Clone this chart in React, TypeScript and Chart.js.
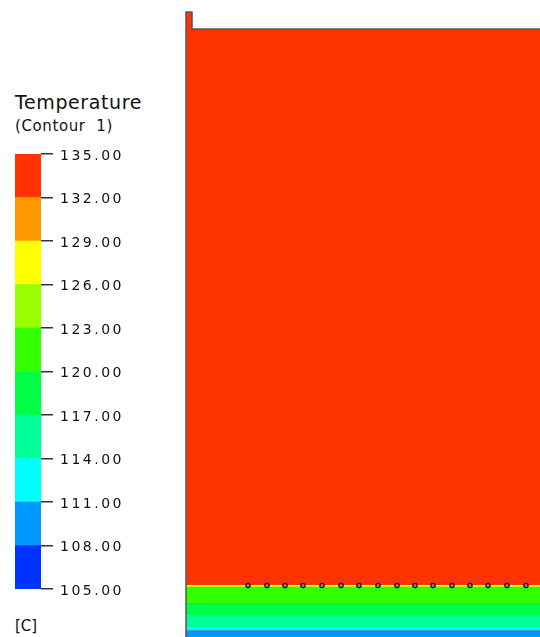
import React, { useEffect, useRef } from "react";
import { Chart, registerables } from "chart.js";

Chart.register(...registerables);

// Legend levels (°C) and contour band colours (band i spans tempLevels[i]..tempLevels[i+1])
const tempLevels = [105, 108, 111, 114, 117, 120, 123, 126, 129, 132, 135];
const bandColors = [
  "#0033ff",
  "#0099ff",
  "#00ffff",
  "#00ff99",
  "#00ff44",
  "#33ff00",
  "#99ff00",
  "#ffff00",
  "#ff9900",
  "#ff3300",
];

// Domain wall outline (model units, origin at left wall / bottom of view)
const wallX = [0, 0, 6, 6, 380];
const wallY = [0, 625, 625, 608, 608];

// Horizontal temperature layers near the bottom of the domain
const layerBottom = [0, 6.5, 10, 22, 33.5, 50, 51];
const layerTop = [6.5, 10, 22, 33.5, 50, 51, 52];
const layerBand = [1, 2, 3, 4, 5, 6, 7];
const fluidBand = 9;

// Interface nodes
const nodeX = [62, 81, 99, 117, 136, 155, 173, 192, 211, 229, 247, 266, 284, 302, 321, 340];
const nodeY = 51.5;

function LegendBar() {
  const ref = useRef<HTMLCanvasElement | null>(null);
  useEffect(() => {
    if (!ref.current) return;
    const datasets = bandColors.map((c, i) => ({
      label: `${tempLevels[i]}-${tempLevels[i + 1]}`,
      data: [[tempLevels[i], tempLevels[i + 1]]] as any,
      backgroundColor: c,
      borderWidth: 0,
      barPercentage: 1,
      categoryPercentage: 1,
    }));
    const chart = new Chart(ref.current, {
      type: "bar",
      data: { labels: [""], datasets },
      options: {
        animation: false,
        responsive: false,
        events: [],
        layout: { autoPadding: false, padding: { left: 15, top: 154, bottom: 48, right: 0 } },
        plugins: { legend: { display: false }, tooltip: { enabled: false } },
        scales: {
          x: { display: false, stacked: true },
          y: {
            position: "right",
            min: tempLevels[0],
            max: tempLevels[tempLevels.length - 1],
            afterBuildTicks: (s: any) => {
              s.ticks = tempLevels.map((v) => ({ value: v }));
            },
            afterFit: (s: any) => {
              s.width = 139;
            },
            ticks: {
              padding: 7,
              labelOffset: 2,
              color: "#111",
              font: { family: "DejaVu Sans", size: 14 },
              callback: (v: any) => Number(v).toFixed(2),
            },
            grid: {
              drawOnChartArea: false,
              drawTicks: true,
              tickLength: 12,
              color: "#333",
              lineWidth: 1.5,
            },
            border: { display: false },
          },
        },
      },
      plugins: [
        {
          id: "spacing",
          beforeDraw: (c: any) => {
            c.ctx.letterSpacing = "2.5px";
          },
        },
      ],
    });
    return () => chart.destroy();
  }, []);
  return (
    <canvas
      ref={ref}
      width={180}
      height={637}
      style={{ position: "absolute", left: 0, top: 0, display: "block" }}
    />
  );
}

function Domain() {
  const ref = useRef<HTMLCanvasElement | null>(null);
  useEffect(() => {
    if (!ref.current) return;
    const wallPts = wallX.map((x, i) => ({ x, y: wallY[i] }));
    const xLeft = wallX[0];
    const xRight = wallX[wallX.length - 1];
    const layers = layerBottom.map((lo, i) => ({
      type: "line" as const,
      data: [
        { x: xLeft, y: layerTop[i] },
        { x: xRight, y: layerTop[i] },
      ],
      fill: { value: lo },
      backgroundColor: bandColors[layerBand[i]],
      borderWidth: 0,
      pointRadius: 0,
      tension: 0,
      order: 2,
    }));
    const chart = new Chart(ref.current, {
      type: "line",
      data: {
        datasets: [
          {
            data: nodeX.map((x) => ({ x, y: nodeY })),
            showLine: false,
            pointRadius: 2.2,
            pointBackgroundColor: "#888",
            pointBorderColor: "#111",
            pointBorderWidth: 1.2,
            order: 0,
          },
          {
            data: wallPts,
            borderColor: "#555",
            borderWidth: 1.5,
            pointRadius: 0,
            fill: false,
            tension: 0,
            order: 1,
          },
          ...layers,
          {
            data: wallPts,
            fill: "origin",
            backgroundColor: bandColors[fluidBand],
            borderWidth: 0,
            pointRadius: 0,
            tension: 0,
            order: 3,
          },
        ] as any,
      },
      options: {
        animation: false,
        responsive: false,
        events: [],
        layout: { autoPadding: false, padding: 0 },
        plugins: { legend: { display: false }, tooltip: { enabled: false } },
        scales: {
          x: { type: "linear", display: false, min: -3, max: 354 },
          y: { type: "linear", display: false, min: 0, max: 637 },
        },
      },
    });
    return () => chart.destroy();
  }, []);
  return (
    <canvas
      ref={ref}
      width={357}
      height={637}
      style={{ position: "absolute", left: 183, top: 0, display: "block" }}
    />
  );
}

export default function App() {
  const textBase: React.CSSProperties = {
    position: "absolute",
    left: 15,
    lineHeight: 1,
    color: "#111",
    fontFamily: "'DejaVu Sans', sans-serif",
    whiteSpace: "pre",
  };
  return (
    <div
      style={{
        position: "absolute",
        left: 0,
        top: 0,
        width: 540,
        height: 637,
        background: "#fff",
        overflow: "hidden",
      }}
    >
      <div style={{ ...textBase, top: 93, fontSize: 19, letterSpacing: "0.6px" }}>Temperature</div>
      <div style={{ ...textBase, top: 119, fontSize: 15, letterSpacing: "0.6px" }}>(Contour  1)</div>
      <div style={{ ...textBase, top: 619, fontSize: 15 }}>[C]</div>
      <LegendBar />
      <Domain />
    </div>
  );
}
